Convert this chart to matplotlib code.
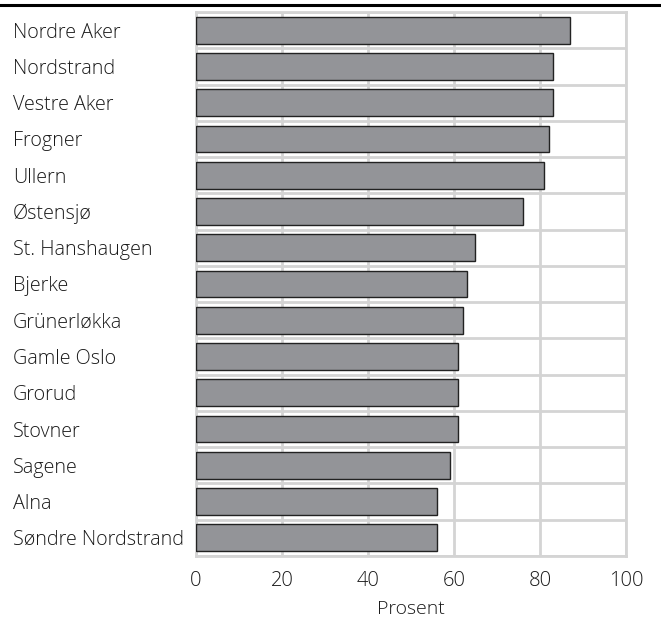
import matplotlib.pyplot as plt
from matplotlib.lines import Line2D
import numpy as np

plt.rcParams['font.family'] = ['Open Sans', 'DejaVu Sans']
plt.rcParams['font.weight'] = 'light'

# Data
bydeler = ["Nordre Aker", "Nordstrand", "Vestre Aker", "Frogner", "Ullern",
           "Østensjø", "St. Hanshaugen", "Bjerke", "Grünerløkka", "Gamle Oslo",
           "Grorud", "Stovner", "Sagene", "Alna", "Søndre Nordstrand"]
prosent = [87, 83, 83, 82, 81, 76, 65, 63, 62, 61, 61, 61, 59, 56, 56]
xticks = [0, 20, 40, 60, 80, 100]

fig = plt.figure(figsize=(6.61, 6.19), dpi=100)
ax = fig.add_axes([0.2965, 0.1018, 0.6505, 0.8788])

y = np.arange(len(bydeler))
ax.barh(y, prosent, height=0.74, color='#939498', edgecolor='#222222',
        linewidth=1.0, zorder=3)

ax.set_xlim(0, 100)
ax.set_ylim(len(bydeler) - 0.5, -0.5)
ax.set_xticks(xticks)
ax.set_yticks(y)
ax.set_yticklabels(bydeler)
ax.set_yticks(np.arange(len(bydeler) + 1) - 0.5, minor=True)

ax.grid(True, axis='x', color='#d4d4d4', linewidth=2, zorder=0)
ax.grid(True, axis='y', which='minor', color='#d4d4d4', linewidth=2, zorder=0)
ax.grid(False, axis='y', which='major')

for s in ax.spines.values():
    s.set_color('#d4d4d4')
    s.set_linewidth(2)

ax.tick_params(axis='both', which='both', length=0)
ax.tick_params(axis='y', labelsize=14.2, colors='#1a1a1a', pad=132)
ax.tick_params(axis='x', labelsize=14.5, colors='#1a1a1a', pad=11)
for lbl in ax.get_yticklabels():
    lbl.set_horizontalalignment('left')

ax.set_xlabel("Prosent", fontsize=14, fontweight='light', color='#1a1a1a',
              labelpad=6)

# top black rule
fig.add_artist(Line2D([0, 1], [1 - 5 / 619, 1 - 5 / 619], color='black',
                      linewidth=2.2, transform=fig.transFigure))

fig.savefig('out.png', dpi=100)
